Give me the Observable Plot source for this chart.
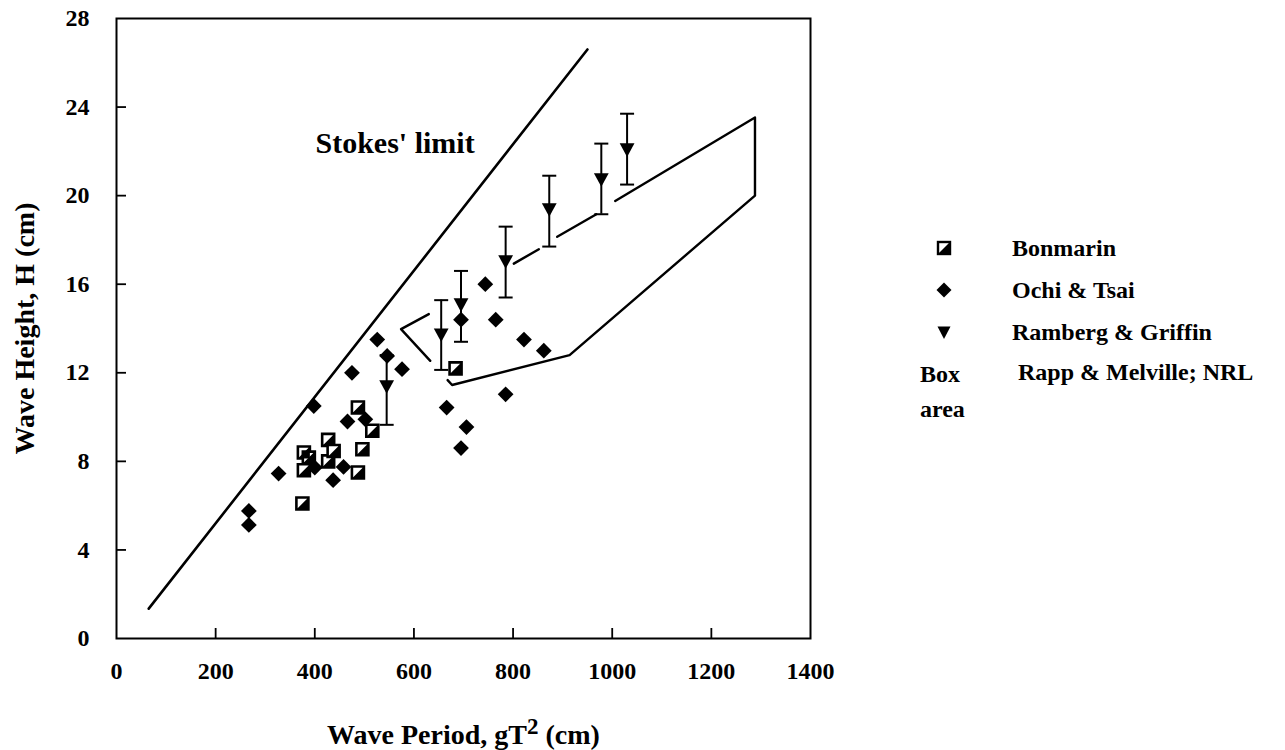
<!DOCTYPE html>
<html>
<head>
<meta charset="utf-8">
<script src="https://cdn.jsdelivr.net/npm/d3@7"></script>
<script src="https://cdn.jsdelivr.net/npm/@observablehq/plot@0.6"></script>
<style>
  body { margin: 0; background: #fff; }
  #wrap { position: relative; width: 1285px; height: 750px; font-family: "Liberation Serif", "Times New Roman", serif; font-weight: bold; color: #000; }
  #legend { position: absolute; left: 920px; top: 227px; font-size: 24px; }
  #legend .row { position: relative; height: 42px; line-height: 42px; white-space: nowrap; }
  #legend .sw { position: absolute; left: 16px; top: 13px; width: 16px; height: 16px; }
  #legend .lab { position: absolute; left: 92px; top: 0; }
</style>
</head>
<body>
<div id="wrap"></div>
<script>
// ---------- data ----------
const xTicks = [0, 200, 400, 600, 800, 1000, 1200, 1400];
const yTicks = [0, 4, 8, 12, 16, 20, 24, 28];

// Bonmarin (half-filled squares)
const bonX = [375, 378, 378, 388, 427, 427, 438, 487, 487, 496, 516, 684];
const bonY = [6.1, 7.6, 8.4, 8.17, 8.0, 8.97, 8.47, 10.43, 7.5, 8.55, 9.38, 12.2];

// Ochi & Tsai (diamonds)
const ochiX = [267, 267, 327, 398, 400, 437, 458, 466, 475, 502, 526, 546, 576, 666, 695, 695, 706, 744, 765, 785, 822, 862];
const ochiY = [5.76, 5.13, 7.45, 10.5, 7.72, 7.15, 7.75, 9.8, 12.0, 9.9, 13.5, 12.76, 12.16, 10.43, 14.4, 8.6, 9.55, 16.0, 14.4, 11.03, 13.5, 13.0];

// Ramberg & Griffin (down triangles with error bars)
const rgX  = [545, 655, 695, 785, 873, 978, 1030];
const rgY  = [11.4, 13.74, 15.1, 17.05, 19.4, 20.75, 22.1];
const rgLo = [9.65, 12.13, 13.4, 15.4, 17.7, 19.16, 20.5];
const rgHi = [12.8, 15.28, 16.6, 18.6, 20.9, 22.35, 23.7];

// Stokes' limit line
const stokesX = [65, 950];
const stokesY = [1.35, 26.6];
const stokesLabel = "Stokes' limit";
const stokesLabelX = 562;
const stokesLabelY = 22.35;

// Box area (Rapp & Melville; NRL) outline, drawn as its visible pieces
const boxSeg = [0, 0, 0, 1, 1, 1, 1, 1, 1, 2, 2, 3, 3];
const boxX   = [630, 574, 633, 668, 677, 914, 1288, 1288, 1006, 968, 889, 852, 801.5];
const boxY   = [14.65, 13.97, 12.54, 11.67, 11.45, 12.8, 20.0, 23.53, 19.76, 19.16, 18.14, 17.58, 16.93];

const legendNames = ["Bonmarin", "Ochi & Tsai", "Ramberg & Griffin", "Rapp & Melville; NRL"];
const xTitle = "Wave Period, gT2 (cm)";
const yTitle = "Wave Height, H (cm)";

// ---------- derived tables ----------
const bon = bonX.map((x, i) => ({x, y: bonY[i]}));
const ochi = ochiX.map((x, i) => ({x, y: ochiY[i]}));
const rg = rgX.map((x, i) => ({x, y: rgY[i], lo: rgLo[i], hi: rgHi[i]}));
const stokes = stokesX.map((x, i) => ({x, y: stokesY[i]}));
const box = boxX.map((x, i) => ({x, y: boxY[i], s: boxSeg[i]}));

// ---------- custom symbols ----------
const sqOutline = {draw(c) { const w = 6; c.moveTo(-w, -w); c.lineTo(w, -w); c.lineTo(w, w); c.lineTo(-w, w); c.closePath(); }};
const sqHalf = {draw(c) { const w = 6; c.moveTo(-w, w); c.lineTo(w, -w); c.lineTo(w, w); c.closePath(); }};
const triDown = {draw(c) { c.moveTo(-7.4, -5.8); c.lineTo(7.4, -5.8); c.lineTo(0, 7.8); c.closePath(); }};
const capLine = {draw(c) { c.moveTo(-7, 0); c.lineTo(7, 0); }};

const W = 1285, H = 750, mL = 116, mR = 475, mT = 18, mB = 112;
const innerW = W - mL - mR, innerH = H - mT - mB;

const chart = Plot.plot({
  width: W, height: H,
  marginLeft: mL, marginRight: mR, marginTop: mT, marginBottom: mB,
  style: {fontFamily: "'Liberation Serif', 'Times New Roman', serif", fontWeight: "bold", fontSize: "24px", color: "#000", background: "#fff"},
  x: {domain: [0, 1400]},
  y: {domain: [0, 28]},
  marks: [
    Plot.frame({stroke: "#000", strokeWidth: 2}),
    Plot.tickX(xTicks.slice(1, -1), {x: d => d, insetTop: innerH - 10, stroke: "#000", strokeWidth: 1.8}),
    Plot.tickY(yTicks.slice(1, -1), {y: d => d, insetRight: innerW - 10, stroke: "#000", strokeWidth: 1.8}),
    Plot.axisX(xTicks, {tickSize: 0, tickPadding: 23, tickFormat: d => String(d), label: null, fontSize: 24, fontWeight: "bold"}),
    Plot.axisY(yTicks, {tickSize: 0, tickPadding: 27, tickFormat: d => String(d), label: null, fontSize: 24, fontWeight: "bold"}),
    Plot.text([xTitle], {frameAnchor: "bottom", dy: 97, lineAnchor: "middle", textAnchor: "middle", fontSize: 28, fontWeight: "bold", text: d => d}),
    Plot.text([yTitle], {frameAnchor: "left", dx: -91, rotate: -90, lineAnchor: "middle", textAnchor: "middle", fontSize: 28, fontWeight: "bold", text: d => d}),
    Plot.line(stokes, {x: "x", y: "y", stroke: "#000", strokeWidth: 2.6}),
    Plot.line(box, {x: "x", y: "y", z: "s", stroke: "#000", strokeWidth: 2.4}),
    Plot.text([stokesLabel], {x: () => stokesLabelX, y: () => stokesLabelY, text: d => d, fontSize: 30, fontWeight: "bold"}),
    Plot.ruleX(rg, {x: "x", y1: "lo", y2: "hi", stroke: "#000", strokeWidth: 2}),
    Plot.dot(rg, {x: "x", y: "lo", symbol: capLine, stroke: "#000", strokeWidth: 2, fill: "none"}),
    Plot.dot(rg, {x: "x", y: "hi", symbol: capLine, stroke: "#000", strokeWidth: 2, fill: "none"}),
    Plot.dot(ochi, {x: "x", y: "y", symbol: "diamond2", r: 7.1, fill: "#000", stroke: "none"}),
    Plot.dot(bon, {x: "x", y: "y", symbol: sqOutline, fill: "#fff", stroke: "#000", strokeWidth: 2.6}),
    Plot.dot(bon, {x: "x", y: "y", symbol: sqHalf, fill: "#000", stroke: "none"}),
    Plot.dot(rg, {x: "x", y: "y", symbol: triDown, fill: "#000", stroke: "none"})
  ]
});

// superscript 2 in the x title
d3.select(chart).selectAll("text").each(function () {
  if (this.textContent === xTitle) {
    const t = d3.select(this);
    t.text(null);
    t.append("tspan").text("Wave Period, gT");
    t.append("tspan").attr("dy", "-10").attr("font-size", "23").text("2");
    t.append("tspan").attr("dy", "10").text(" (cm)");
  }
});

const wrap = document.getElementById("wrap");
wrap.appendChild(chart);

// legend (HTML)
const legend = document.createElement("div");
legend.id = "legend";
const swatches = [
  `<svg class="sw" viewBox="-8 -8 16 16"><rect x="-6" y="-6" width="12" height="12" fill="#fff" stroke="#000" stroke-width="2.4"/><path d="M-6,6L6,-6L6,6Z" fill="#000"/></svg>`,
  `<svg class="sw" viewBox="-8 -8 16 16"><path d="M0,-7.5L7.5,0L0,7.5L-7.5,0Z" fill="#000"/></svg>`,
  `<svg class="sw" viewBox="-8 -8 16 16"><path d="M-6.5,-5.5L6.5,-5.5L0,7Z" fill="#000"/></svg>`
];
const esc = s => s.replace(/&/g, "&amp;");
legend.innerHTML =
  legendNames.slice(0, 3).map((n, i) => `<div class="row">${swatches[i]}<span class="lab">${esc(n)}</span></div>`).join("") +
  `<div class="row" style="height:35px;line-height:35px;margin-top:4px"><span style="position:absolute;left:0">Box</span><span class="lab" style="left:98px;top:-2px">${esc(legendNames[3])}</span></div>` +
  `<div class="row" style="height:35px;line-height:35px"><span style="position:absolute;left:0">area</span></div>`;
wrap.appendChild(legend);
</script>
</body>
</html>
